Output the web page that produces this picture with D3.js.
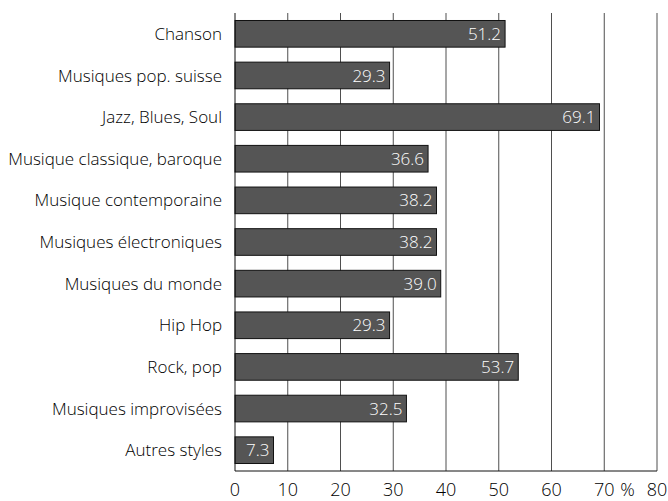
<!DOCTYPE html>
<html>
<head>
<meta charset="utf-8">
<script src="https://cdn.jsdelivr.net/npm/d3@7"></script>
<style>
  body { margin: 0; background: #fff; }
  text { font-family: "Open Sans", sans-serif; font-stretch: 92%; }
</style>
</head>
<body>
<svg id="chart" width="668" height="501"></svg>
<script>
// categories top to bottom
var styles = ["Chanson", "Musiques pop. suisse", "Jazz, Blues, Soul", "Musique classique, baroque",
  "Musique contemporaine", "Musiques électroniques", "Musiques du monde", "Hip Hop",
  "Rock, pop", "Musiques improvisées", "Autres styles"];
var percent = [51.2, 29.3, 69.1, 36.6, 38.2, 38.2, 39.0, 29.3, 53.7, 32.5, 7.3];
var xTicks = [0, 10, 20, 30, 40, 50, 60, 70, 80];

var svg = d3.select("#chart");
var plotLeft = 235, plotRight = 657, plotTop = 13, plotBottom = 471;

var x = d3.scaleLinear().domain([0, 80]).range([plotLeft, plotRight]);
var y = d3.scaleBand().domain(styles).range([plotTop, plotBottom]).paddingInner(0.36).paddingOuter(0.18);

// vertical gridlines
svg.append("g").selectAll("line")
  .data(xTicks.slice(1))
  .enter().append("line")
  .attr("x1", d => x(d)).attr("x2", d => x(d))
  .attr("y1", plotTop).attr("y2", plotBottom)
  .attr("stroke", "#222").attr("stroke-width", 0.8);

// bars
svg.append("g").selectAll("rect")
  .data(percent)
  .enter().append("rect")
  .attr("x", x(0))
  .attr("y", (d, i) => y(styles[i]))
  .attr("width", d => x(d) - x(0))
  .attr("height", y.bandwidth())
  .attr("fill", "#555555")
  .attr("stroke", "#111").attr("stroke-width", 1);

// values inside bars
svg.append("g").selectAll("text")
  .data(percent)
  .enter().append("text")
  .attr("x", d => x(d) - 4)
  .attr("y", (d, i) => y(styles[i]) + y.bandwidth() / 2)
  .attr("dy", "0.36em")
  .attr("text-anchor", "end")
  .attr("fill", "#fff")
  .attr("font-size", "17px")
  .attr("font-weight", 300)
  .text(d => d.toFixed(1));

// category labels
svg.append("g").selectAll("text")
  .data(styles)
  .enter().append("text")
  .attr("x", plotLeft - 13)
  .attr("y", d => y(d) + y.bandwidth() / 2)
  .attr("dy", "0.36em")
  .attr("text-anchor", "end")
  .attr("fill", "#000")
  .attr("font-size", "17px")
  .attr("font-weight", 300)
  .text(d => d);

// axis lines
svg.append("line").attr("x1", plotLeft).attr("x2", plotLeft).attr("y1", plotTop).attr("y2", plotBottom)
  .attr("stroke", "#111").attr("stroke-width", 1);
svg.append("line").attr("x1", plotLeft).attr("x2", plotRight).attr("y1", plotBottom).attr("y2", plotBottom)
  .attr("stroke", "#111").attr("stroke-width", 1);

// x tick labels
svg.append("g").selectAll("text")
  .data(xTicks)
  .enter().append("text")
  .attr("x", d => x(d))
  .attr("y", 496)
  .attr("text-anchor", "middle")
  .attr("fill", "#000")
  .attr("font-size", "18px")
  .attr("font-weight", 300)
  .text(d => d);

svg.append("text")
  .attr("x", (x(70) + x(80)) / 2 - 3)
  .attr("y", 496)
  .attr("text-anchor", "middle")
  .attr("fill", "#000")
  .attr("font-size", "18px")
  .attr("font-weight", 300)
  .text("%");
</script>
</body>
</html>
